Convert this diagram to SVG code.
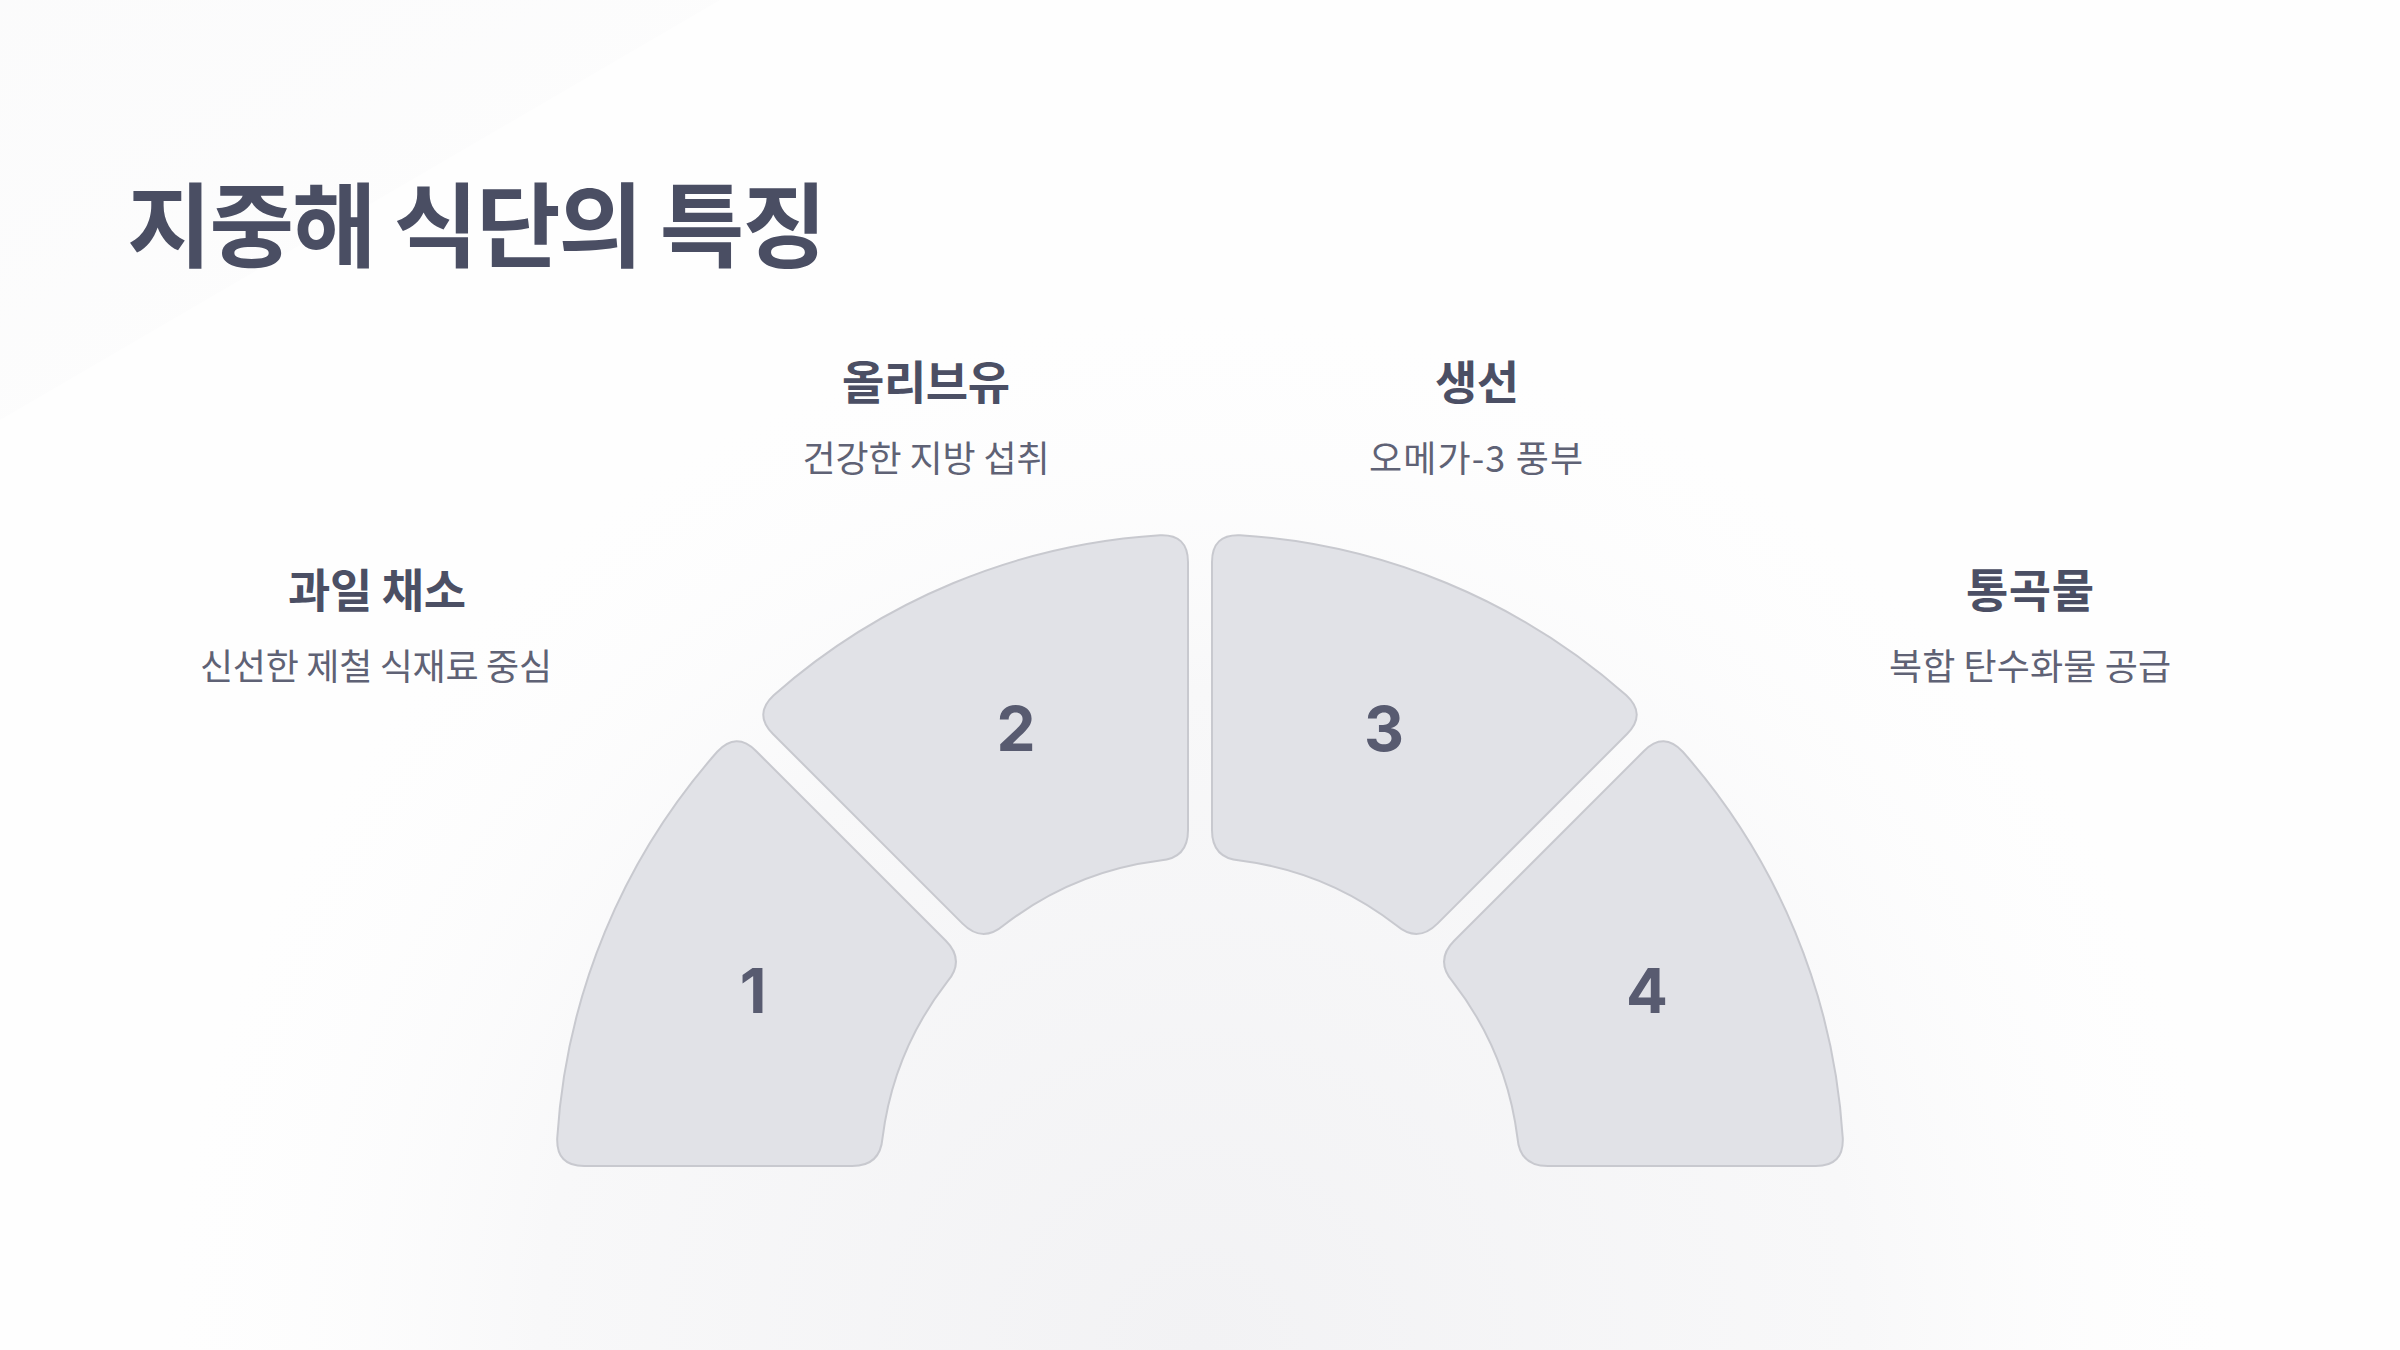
<svg xmlns="http://www.w3.org/2000/svg" width="2400" height="1350" viewBox="0 0 2400 1350">
  <defs>
    <radialGradient id="bgGlow" cx="1200" cy="1350" r="1100" gradientUnits="userSpaceOnUse">
      <stop offset="0" stop-color="#f2f2f4"/>
      <stop offset="0.6" stop-color="#f8f8f9"/>
      <stop offset="1" stop-color="#ffffff" stop-opacity="0"/>
    </radialGradient>
    <linearGradient id="tlShade" x1="0" y1="0" x2="1" y2="1">
      <stop offset="0" stop-color="#f8f8f9"/>
      <stop offset="1" stop-color="#fdfdfd"/>
    </linearGradient>
    <style>
      .seg { fill: #e1e2e7; stroke: #c8c9cf; stroke-width: 2; }
      .num { font-family: Inter, "Liberation Sans", sans-serif; font-weight: 700; font-size: 62px; fill: #585b70; text-anchor: middle; }
      .title { font-family: "Noto Sans CJK KR", sans-serif; font-weight: 700; font-size: 92px; fill: #4a4e63; }
      .head { font-family: "Noto Sans CJK KR", sans-serif; font-weight: 700; font-size: 46px; fill: #4b4f64; text-anchor: middle; }
      .desc { font-family: "Noto Sans CJK KR", sans-serif; font-weight: 400; font-size: 36px; fill: #5f6275; text-anchor: middle; }
    </style>
  </defs>

  <g id="background">
    <rect x="0" y="0" width="2400" height="1350" fill="#fefefe"/>
    <polygon points="0,0 720,0 0,420" fill="url(#tlShade)" opacity="0.5"/>
    <rect x="0" y="0" width="2400" height="1350" fill="url(#bgGlow)"/>
  </g>

  <g id="title">
    <text class="title" x="127" y="260" textLength="700" lengthAdjust="spacing">지중해 식단의 특징</text>
  </g>

  <g id="connectors"></g>

  <g id="segment-1">
    <path class="seg" d="M 584.11 1166 L 852.23 1166 Q 880.23 1166 882.50 1138.10 A 320 320 0 0 1 947.33 981.63 Q 965.40 960.37 945.60 940.57 L 756.02 750.99 Q 736.22 731.19 717.22 751.79 A 644 644 0 0 0 557.24 1138.03 Q 556.11 1166 584.11 1166 Z"/>
    <text class="num" x="753" y="1013">1</text>
  </g>

  <g id="segment-2">
    <path class="seg" d="M 772.99 734.02 Q 753.19 714.22 773.74 695.26 A 644 644 0 0 1 1160.03 535.24 Q 1188 534.11 1188 562.11 L 1188 830.23 Q 1188 858.23 1160.10 860.50 A 320 320 0 0 0 1003.71 925.28 Q 982.37 943.40 962.57 923.60 Z"/>
    <text class="num" x="1016" y="751">2</text>
  </g>

  <g id="segment-3">
    <path class="seg" d="M 1627.01 734.02 Q 1646.81 714.22 1626.26 695.26 A 644 644 0 0 0 1239.97 535.24 Q 1212 534.11 1212 562.11 L 1212 830.23 Q 1212 858.23 1239.90 860.50 A 320 320 0 0 1 1396.29 925.28 Q 1417.63 943.40 1437.43 923.60 Z"/>
    <text class="num" x="1384" y="751">3</text>
  </g>

  <g id="segment-4">
    <path class="seg" d="M 1815.89 1166 L 1547.77 1166 Q 1519.77 1166 1517.50 1138.10 A 320 320 0 0 0 1452.67 981.63 Q 1434.60 960.37 1454.40 940.57 L 1643.98 750.99 Q 1663.78 731.19 1682.78 751.79 A 644 644 0 0 1 1842.76 1138.03 Q 1843.89 1166 1815.89 1166 Z"/>
    <text class="num" x="1647" y="1013">4</text>
  </g>

  <g id="label-1">
    <text class="head" x="377" y="607" textLength="178" lengthAdjust="spacing">과일 채소</text>
    <text class="desc" x="376" y="680" textLength="352" lengthAdjust="spacing">신선한 제철 식재료 중심</text>
  </g>

  <g id="label-2">
    <text class="head" x="926" y="399" textLength="168" lengthAdjust="spacing">올리브유</text>
    <text class="desc" x="926" y="472" textLength="247" lengthAdjust="spacing">건강한 지방 섭취</text>
  </g>

  <g id="label-3">
    <text class="head" x="1477" y="399" textLength="84" lengthAdjust="spacing">생선</text>
    <text class="desc" x="1476" y="472" textLength="214" lengthAdjust="spacing">오메가-3 풍부</text>
  </g>

  <g id="label-4">
    <text class="head" x="2030" y="607" textLength="128" lengthAdjust="spacing">통곡물</text>
    <text class="desc" x="2030" y="680" textLength="282" lengthAdjust="spacing">복합 탄수화물 공급</text>
  </g>
</svg>
